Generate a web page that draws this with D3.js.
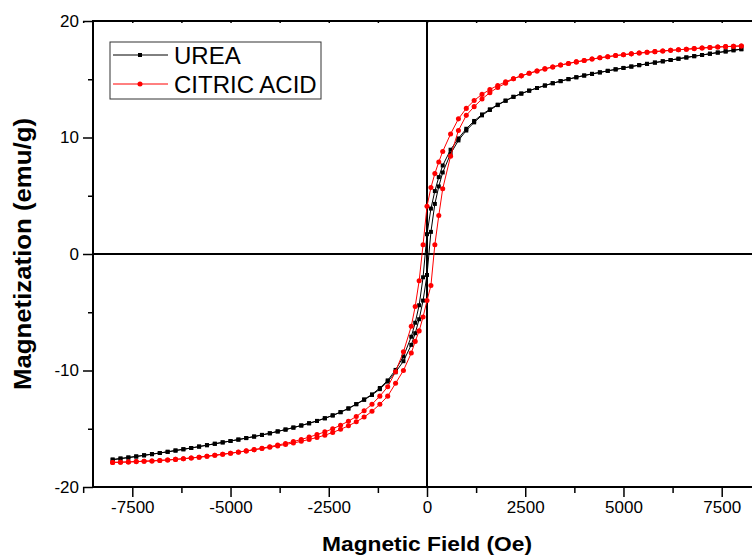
<!DOCTYPE html>
<html>
<head>
<meta charset="utf-8">
<script src="https://cdn.jsdelivr.net/npm/d3@7/dist/d3.min.js"></script>
<style>
  html, body { margin: 0; padding: 0; background: #fff; }
  svg { display: block; }
  text { font-family: "Liberation Sans", Arial, sans-serif; }
</style>
</head>
<body>
<svg id="chart" width="752" height="556"></svg>
<script>
// Applied field (Oe), listed from +8000 down to -8000
const fieldOe = [
  8000, 7800, 7600, 7400, 7200, 7000, 6800, 6600, 6400, 6200,
  6000, 5800, 5600, 5400, 5200, 5000, 4800, 4600, 4400, 4200,
  4000, 3800, 3600, 3400, 3200, 3000, 2800, 2600, 2400, 2200,
  2000, 1800, 1600, 1400, 1200, 1000, 800, 600, 400, 300,
  200, 100, 0, -100, -200, -300, -400, -600, -800, -1000,
  -1200, -1400, -1600, -1800, -2000, -2200, -2400, -2600, -2800, -3000,
  -3200, -3400, -3600, -3800, -4000, -4200, -4400, -4600, -4800, -5000,
  -5200, -5400, -5600, -5800, -6000, -6200, -6400, -6600, -6800, -7000,
  -7200, -7400, -7600, -7800, -8000
];

// Magnetization (emu/g), aligned with fieldOe.
// "Down" = branch swept from +H to -H, "Up" = branch swept from -H to +H.
const ureaDown = [
  17.58, 17.49, 17.39, 17.29, 17.19, 17.08, 16.98, 16.87, 16.76, 16.65,
  16.54, 16.43, 16.32, 16.21, 16.09, 15.97, 15.85, 15.72, 15.59, 15.46,
  15.32, 15.17, 15.01, 14.84, 14.66, 14.46, 14.25, 14.02, 13.77, 13.49,
  13.17, 12.82, 12.42, 11.98, 11.42, 10.75, 9.92, 8.95, 7.6, 6.6,
  5.4, 3.9, 1.7, -2.0, -4.4, -5.9, -7.1, -8.8, -9.95, -10.85,
  -11.5, -12.05, -12.48, -12.88, -13.25, -13.57, -13.85, -14.1, -14.33, -14.53,
  -14.72, -14.9, -15.07, -15.23, -15.39, -15.53, -15.67, -15.8, -15.93, -16.05,
  -16.17, -16.29, -16.41, -16.53, -16.65, -16.76, -16.87, -16.98, -17.08, -17.18,
  -17.28, -17.38, -17.47, -17.56, -17.65
];
const ureaUp = [
  17.58, 17.49, 17.39, 17.29, 17.19, 17.08, 16.98, 16.87, 16.76, 16.65,
  16.54, 16.43, 16.32, 16.21, 16.09, 15.97, 15.85, 15.72, 15.59, 15.46,
  15.32, 15.17, 15.01, 14.84, 14.66, 14.46, 14.25, 14.02, 13.77, 13.49,
  13.15, 12.78, 12.36, 11.9, 11.3, 10.6, 9.75, 8.6, 7.0, 5.8,
  4.3, 1.9, -1.8, -4.0, -5.6, -6.8, -7.8, -9.2, -10.15, -10.95,
  -11.6, -12.1, -12.52, -12.9, -13.27, -13.58, -13.86, -14.1, -14.33, -14.53,
  -14.72, -14.9, -15.07, -15.23, -15.39, -15.53, -15.67, -15.8, -15.93, -16.05,
  -16.17, -16.29, -16.41, -16.53, -16.65, -16.76, -16.87, -16.98, -17.08, -17.18,
  -17.28, -17.38, -17.47, -17.56, -17.65
];
const citricDown = [
  17.86, 17.83, 17.8, 17.77, 17.73, 17.68, 17.63, 17.58, 17.53, 17.48,
  17.43, 17.37, 17.31, 17.25, 17.18, 17.11, 17.03, 16.94, 16.84, 16.73,
  16.61, 16.49, 16.36, 16.22, 16.06, 15.89, 15.71, 15.51, 15.29, 15.05,
  14.78, 14.47, 14.12, 13.7, 13.18, 12.5, 11.6, 10.3, 8.8, 7.9,
  6.9, 5.7, 4.1, 0.8, -2.3, -4.5, -6.2, -8.4, -10.1, -11.4,
  -12.2, -12.9, -13.45, -13.95, -14.35, -14.7, -15.0, -15.27, -15.5, -15.72,
  -15.92, -16.1, -16.26, -16.4, -16.54, -16.67, -16.79, -16.9, -17.0, -17.1,
  -17.19, -17.28, -17.36, -17.44, -17.51, -17.57, -17.63, -17.68, -17.72, -17.76,
  -17.79, -17.82, -17.85, -17.87, -17.89
];
const citricUp = [
  17.86, 17.83, 17.8, 17.77, 17.73, 17.68, 17.63, 17.58, 17.53, 17.48,
  17.43, 17.37, 17.31, 17.25, 17.18, 17.11, 17.03, 16.94, 16.84, 16.73,
  16.61, 16.49, 16.36, 16.22, 16.06, 15.89, 15.71, 15.51, 15.29, 15.05,
  14.65, 14.3, 13.85, 13.3, 12.65, 11.9, 10.6, 8.4, 5.6, 3.3,
  0.8, -2.7, -4.0, -5.4, -6.6, -7.5, -8.5, -10.0, -11.1, -12.2,
  -12.9, -13.5, -14.0, -14.4, -14.75, -15.05, -15.32, -15.55, -15.75, -15.92,
  -16.08, -16.22, -16.35, -16.47, -16.59, -16.7, -16.81, -16.91, -17.01, -17.1,
  -17.19, -17.28, -17.36, -17.44, -17.51, -17.57, -17.63, -17.68, -17.72, -17.76,
  -17.79, -17.82, -17.85, -17.87, -17.89
];

const seriesNames = ["UREA", "CITRIC ACID"];
const seriesColors = ["#000000", "#ff0000"];
const seriesSymbols = [d3.symbolSquare, d3.symbolCircle];

const xMajorTicks = [-7500, -5000, -2500, 0, 2500, 5000, 7500];
const xMinorTicks = [-8750, -6250, -3750, -1250, 1250, 3750, 6250, 8750];
const yMajorTicks = [-20, -10, 0, 10, 20];
const yMinorTicks = [-15, -5, 5, 15];

const xTitle = "Magnetic Field (Oe)";
const yTitle = "Magnetization (emu/g)";

// ---- layout ----
const svg = d3.select("#chart");
const plot = { left: 93, top: 21, right: 761, bottom: 487 };

const x = d3.scaleLinear().domain([-8500, 8500]).range([plot.left, plot.right]);
const y = d3.scaleLinear().domain([-20, 20]).range([plot.bottom, plot.top]);

svg.append("rect").attr("width", 752).attr("height", 556).attr("fill", "#fff");

// full loop: down branch, then up branch back to +H
function loop(down, up) {
  const a = fieldOe.map((h, i) => [h, down[i]]);
  const b = fieldOe.map((h, i) => [h, up[i]]).reverse();
  return a.concat(b);
}
const loops = [loop(ureaDown, ureaUp), loop(citricDown, citricUp)];

const line = d3.line().x(d => x(d[0])).y(d => y(d[1]));

// zero reference lines
svg.append("line")
  .attr("x1", x(0)).attr("x2", x(0))
  .attr("y1", plot.top).attr("y2", plot.bottom)
  .attr("stroke", "#000").attr("stroke-width", 2);
svg.append("line")
  .attr("x1", plot.left).attr("x2", plot.right)
  .attr("y1", y(0)).attr("y2", y(0))
  .attr("stroke", "#000").attr("stroke-width", 2);

// data
loops.forEach((pts, k) => {
  const g = svg.append("g");
  g.append("path")
    .attr("d", line(pts))
    .attr("fill", "none")
    .attr("stroke", seriesColors[k])
    .attr("stroke-width", 1);
  const sym = d3.symbol().type(seriesSymbols[k]).size(k === 0 ? 16 : 20);
  g.selectAll("path.pt").data(pts).join("path")
    .attr("class", "pt")
    .attr("transform", d => `translate(${x(d[0])},${y(d[1])})`)
    .attr("d", sym)
    .attr("fill", seriesColors[k]);
});

// axes
const tickFont = 17;
const plainNumber = d => String(d);   // ASCII hyphen for negatives
function styleAxis(g) {
  g.select(".domain").remove();
  g.selectAll(".tick line").attr("stroke", "#000").attr("stroke-width", 1.5);
  g.selectAll(".tick text")
    .attr("fill", "#000")
    .style("font-size", tickFont + "px")
    .style("font-family", '"Liberation Sans", Arial, sans-serif');
}

svg.append("g")
  .attr("transform", `translate(0,${plot.bottom})`)
  .call(d3.axisBottom(x).tickValues(xMajorTicks).tickSize(10).tickPadding(4).tickFormat(plainNumber))
  .call(styleAxis);
svg.append("g")
  .attr("transform", `translate(0,${plot.bottom})`)
  .call(d3.axisBottom(x).tickValues(xMinorTicks).tickSize(6).tickFormat(""))
  .call(styleAxis);

// top frame ticks (short, inward)
svg.append("g")
  .attr("transform", `translate(0,${plot.top})`)
  .call(d3.axisBottom(x).tickValues(xMajorTicks.concat(xMinorTicks)).tickSize(2).tickFormat(""))
  .call(styleAxis);

svg.append("g")
  .attr("transform", `translate(${plot.left},0)`)
  .call(d3.axisLeft(y).tickValues(yMajorTicks).tickSize(10).tickPadding(4).tickFormat(plainNumber))
  .call(styleAxis);
svg.append("g")
  .attr("transform", `translate(${plot.left},0)`)
  .call(d3.axisLeft(y).tickValues(yMinorTicks).tickSize(5).tickFormat(""))
  .call(styleAxis);

// axis lines / frame
svg.append("line").attr("x1", plot.left).attr("x2", plot.right)
  .attr("y1", plot.bottom).attr("y2", plot.bottom)
  .attr("stroke", "#000").attr("stroke-width", 2);
svg.append("line").attr("x1", plot.left).attr("x2", plot.right)
  .attr("y1", plot.top).attr("y2", plot.top)
  .attr("stroke", "#000").attr("stroke-width", 2);
svg.append("line").attr("x1", plot.left).attr("x2", plot.left)
  .attr("y1", plot.top - 1).attr("y2", plot.bottom + 1)
  .attr("stroke", "#000").attr("stroke-width", 2);

// axis titles
svg.append("text")
  .attr("x", x(0)).attr("y", 550.5)
  .attr("text-anchor", "middle")
  .attr("textLength", 210).attr("lengthAdjust", "spacingAndGlyphs")
  .style("font-size", "20px").style("font-weight", "bold")
  .text(xTitle);
svg.append("text")
  .attr("transform", `translate(31,${y(0)}) rotate(-90)`)
  .attr("text-anchor", "middle")
  .attr("textLength", 272).attr("lengthAdjust", "spacingAndGlyphs")
  .style("font-size", "23px").style("font-weight", "bold")
  .text(yTitle);

// legend
const legend = svg.append("g").attr("transform", "translate(110,42)");
legend.append("rect")
  .attr("width", 211).attr("height", 57)
  .attr("fill", "#fff").attr("stroke", "#333").attr("stroke-width", 1);
seriesNames.forEach((name, k) => {
  const ly = 13 + k * 29;
  legend.append("line")
    .attr("x1", 3).attr("x2", 58).attr("y1", ly).attr("y2", ly)
    .attr("stroke", seriesColors[k]).attr("stroke-width", 1);
  legend.append("path")
    .attr("transform", `translate(30,${ly})`)
    .attr("d", d3.symbol().type(seriesSymbols[k]).size(k === 0 ? 16 : 20))
    .attr("fill", seriesColors[k]);
  legend.append("text")
    .attr("x", 64).attr("y", ly + 8.5)
    .style("font-size", "24px")
    .attr("fill", "#000")
    .text(name);
});
</script>
</body>
</html>
